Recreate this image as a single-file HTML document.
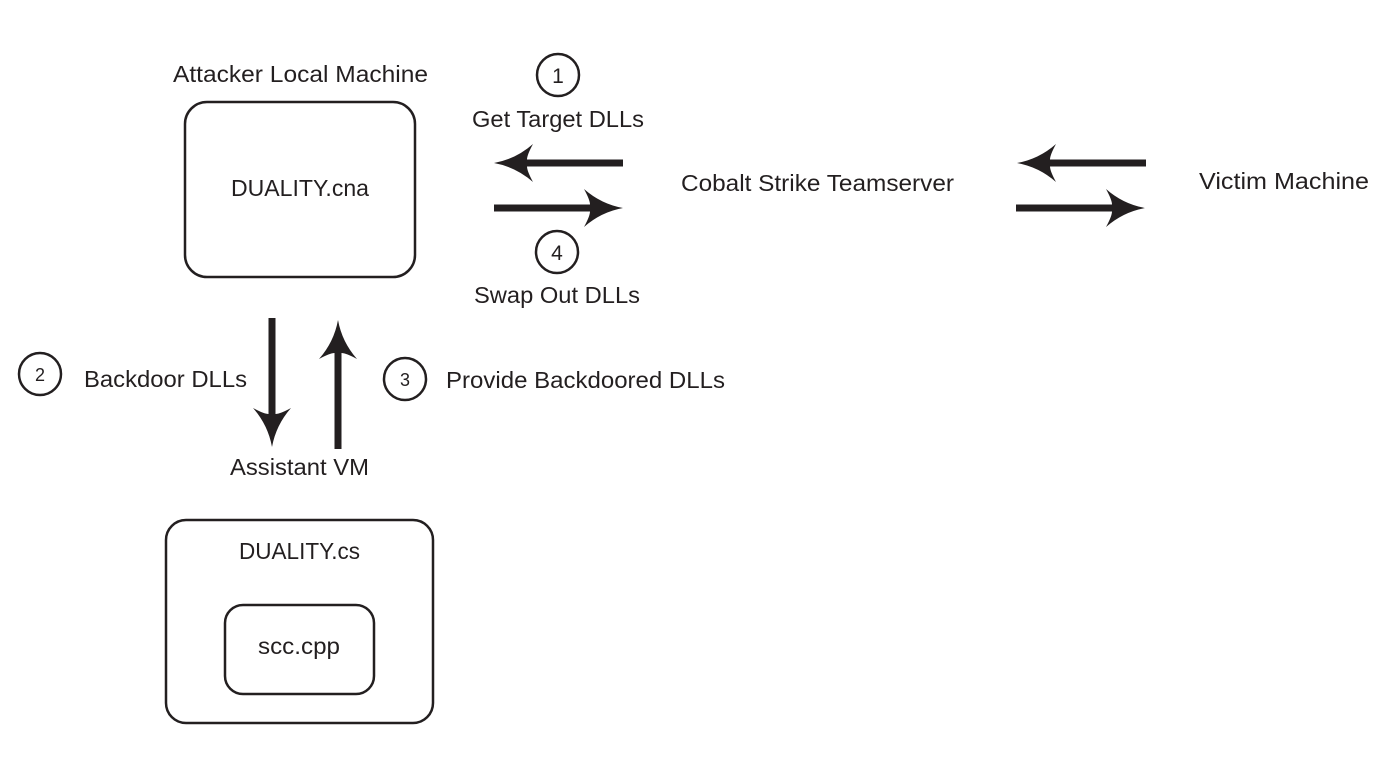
<!DOCTYPE html>
<html><head><meta charset="utf-8"><style>
html,body{margin:0;padding:0;background:#fff;}
svg{display:block}
text{font-family:"Liberation Sans",sans-serif;font-size:23px;fill:#231f20}
</style></head><body>
<svg width="1392" height="765" viewBox="0 0 1392 765" xmlns="http://www.w3.org/2000/svg">
<defs>
<path id="ah" d="M0,0 Q22,-4 39,-19 Q33,-8 33,-3.5 L129,-3.5 L129,3.5 L33,3.5 Q33,8 39,19 Q22,4 0,0Z" fill="#231f20"/>
</defs>
<g fill="none" stroke="#231f20" stroke-width="2.5">
<rect x="185" y="102" width="230" height="175" rx="22"/>
<rect x="166" y="520" width="267" height="203" rx="20"/>
<rect x="225" y="605" width="149" height="89" rx="18"/>
<circle cx="558" cy="75" r="21"/>
<circle cx="557" cy="252" r="21"/>
<circle cx="40" cy="374" r="21"/>
<circle cx="405" cy="379" r="21"/>
</g>
<use href="#ah" transform="translate(494,163)"/>
<use href="#ah" transform="translate(623,208) rotate(180)"/>
<use href="#ah" transform="translate(1017,163)"/>
<use href="#ah" transform="translate(1145,208) rotate(180)"/>
<use href="#ah" transform="translate(272,447) rotate(-90)"/>
<use href="#ah" transform="translate(338,320) rotate(90)"/>
<text x="173" y="82" textLength="255" lengthAdjust="spacingAndGlyphs">Attacker Local Machine</text>
<text x="472" y="127" textLength="172" lengthAdjust="spacingAndGlyphs">Get Target DLLs</text>
<text x="231" y="196" textLength="138" lengthAdjust="spacingAndGlyphs">DUALITY.cna</text>
<text x="681" y="191" textLength="273" lengthAdjust="spacingAndGlyphs">Cobalt Strike Teamserver</text>
<text x="1199" y="189" textLength="170" lengthAdjust="spacingAndGlyphs">Victim Machine</text>
<text x="474" y="303" textLength="166" lengthAdjust="spacingAndGlyphs">Swap Out DLLs</text>
<text x="84" y="387" textLength="163" lengthAdjust="spacingAndGlyphs">Backdoor DLLs</text>
<text x="446" y="388" textLength="279" lengthAdjust="spacingAndGlyphs">Provide Backdoored DLLs</text>
<text x="230" y="475" textLength="139" lengthAdjust="spacingAndGlyphs">Assistant VM</text>
<text x="239" y="559" textLength="121" lengthAdjust="spacingAndGlyphs">DUALITY.cs</text>
<text x="258" y="654" textLength="82" lengthAdjust="spacingAndGlyphs">scc.cpp</text>
<g text-anchor="middle">
<text x="558" y="83" style="font-size:21px">1</text>
<text x="557" y="260" style="font-size:21px">4</text>
<text x="40" y="381" style="font-size:18px">2</text>
<text x="405" y="386" style="font-size:18px">3</text>
</g>
</svg>
</body></html>
